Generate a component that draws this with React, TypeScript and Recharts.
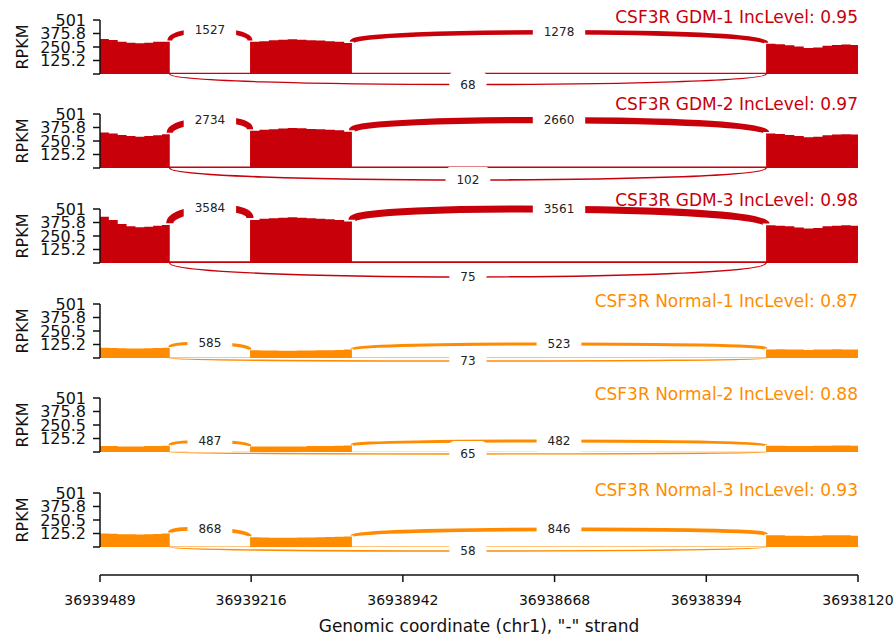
import { ComposedChart, Area, XAxis, YAxis, ReferenceLine } from 'recharts';

const FONT = '"DejaVu Sans", sans-serif';
const RED = '#C8000A';
const ORANGE = '#FF8C00';

// genomic axis ("-" strand, so drawn reversed)
const X_MIN = 36938120;
const X_MAX = 36939489;
const X_TICKS = [36939489, 36939216, 36938942, 36938668, 36938394, 36938120];
const Y_TICKS = [0, 125.2, 250.5, 375.8, 501];

const SAMPLES = ['GDM-1', 'GDM-2', 'GDM-3', 'Normal-1', 'Normal-2', 'Normal-3'];
const INC_LEVELS = [0.95, 0.97, 0.98, 0.87, 0.88, 0.93];

// coverage sample positions: exon1, intron1, exon2, intron2, exon3
const POS = [
  36939489, 36939473, 36939457, 36939441, 36939425, 36939409, 36939393, 36939377,
  36939363,
  36939218, 36939201, 36939184, 36939167, 36939150, 36939133, 36939116, 36939099, 36939082, 36939065, 36939048,
  36939034,
  36938286, 36938269, 36938252, 36938235, 36938218, 36938201, 36938184, 36938167, 36938150, 36938133,
  36938120,
];

const COV_GDM1 = [
  325, 315, 300, 290, 285, 290, 300, 300,
  12,
  300, 305, 312, 318, 322, 318, 314, 310, 305, 300, 288,
  12,
  280, 276, 266, 255, 242, 246, 262, 270, 273, 270,
  270,
];
const COV_GDM2 = [
  330, 320, 306, 296, 290, 296, 305, 312,
  14,
  345, 354, 360, 366, 370, 368, 362, 360, 355, 350, 336,
  14,
  320, 315, 306, 296, 286, 290, 305, 310, 312, 310,
  310,
];
const COV_GDM3 = [
  430, 400, 362, 342, 332, 336, 346, 352,
  16,
  400, 410, 416, 420, 425, 420, 415, 410, 405, 400, 386,
  16,
  350, 345, 340, 330, 320, 325, 340, 345, 350, 345,
  345,
];
const COV_N1 = [
  95, 92, 90, 88, 88, 90, 92, 95,
  4,
  72, 70, 70, 68, 68, 70, 70, 72, 72, 75, 78,
  4,
  80, 82, 80, 78, 75, 78, 80, 82, 80, 78,
  78,
];
const COV_N2 = [
  55, 55, 52, 52, 52, 55, 55, 58,
  3,
  50, 52, 52, 50, 52, 52, 55, 55, 55, 58, 60,
  3,
  58, 58, 55, 55, 55, 58, 58, 60, 60, 58,
  58,
];
const COV_N3 = [
  125, 122, 118, 118, 115, 118, 120, 125,
  4,
  90, 88, 85, 85, 85, 88, 88, 90, 92, 95, 98,
  4,
  110, 108, 105, 105, 102, 105, 108, 110, 108, 105,
  105,
];
const COVERAGE = [COV_GDM1, COV_GDM2, COV_GDM3, COV_N1, COV_N2, COV_N3];

// junctions: [donor, acceptor]
const JXN_INC1 = [36939363, 36939218];
const JXN_INC2 = [36939034, 36938286];
const JXN_SKIP = [36939363, 36938286];
const INC1_COUNTS = [1527, 2734, 3584, 585, 487, 868];
const INC2_COUNTS = [1278, 2660, 3561, 523, 482, 846];
const SKIP_COUNTS = [68, 102, 75, 73, 65, 58];

const PANEL_TOPS = [20, 114, 209, 304, 398, 493];
const TITLE_Y = [17, 104, 200, 301, 394, 490];
const PLOT_H = 54;
const M_TOP = 22;
const M_BOTTOM = 24;

const makeArc = (count: number, h: number, dir: number, color: string) => (p: any) => {
  const { x1, y1, x2, y2 } = p;
  if (x1 == null) return <g />;
  const lw = 0.11 * Math.sqrt(count) + 0.5;
  const off = dir < 0 ? -lw / 4 : 0;
  const a = y1 + off;
  const b = y2 + off;
  const d = `M${x1},${a} C${x1},${a + dir * h} ${x2},${b + dir * h} ${x2},${b}`;
  const mx = (x1 + x2) / 2;
  const my = (a + b) / 2 + dir * 0.75 * h;
  const label = String(count);
  const w = label.length * 7.6 + 22;
  return (
    <g>
      <path d={d} stroke={color} strokeWidth={lw} fill="none" />
      <rect x={mx - w / 2} y={my - 13} width={w} height={26} rx={5} fill="#fff" />
      <text x={mx} y={my} textAnchor="middle" dominantBaseline="central" fontSize={12} fill="#222" fontFamily={FONT}>
        {label}
      </text>
    </g>
  );
};

const rpkmLabel = (props: any) => {
  const vb = props.viewBox;
  const cy = vb.y + vb.height / 2;
  return (
    <text x={28} y={cy} transform={`rotate(-90 28 ${cy})`} textAnchor="middle" fontSize={16} fill="#111" fontFamily={FONT}>
      RPKM
    </text>
  );
};

function Panel({ idx }: { idx: number }) {
  const vals = COVERAGE[idx];
  const data = POS.map((pos, i) => ({ pos, cov: vals[i] }));
  const color = idx < 3 ? RED : ORANGE;
  const top = PANEL_TOPS[idx];
  const maxPx = (Math.max(...vals) / 501) * PLOT_H;
  const topH = 3.5 + 0.28 * maxPx;
  const botH = 0.4 * maxPx;
  const at = (p: number, before: boolean) => vals[POS.indexOf(p) - (before ? 1 : 0)];

  return (
    <div style={{ position: 'absolute', left: 0, top: top - M_TOP }}>
      <ComposedChart
        width={895}
        height={M_TOP + PLOT_H + M_BOTTOM}
        data={data}
        margin={{ top: M_TOP, right: 37, left: 0, bottom: M_BOTTOM }}
        style={{ overflow: 'visible' }}
      >
        <XAxis dataKey="pos" type="number" domain={[X_MIN, X_MAX]} reversed hide allowDataOverflow />
        <YAxis
          domain={[0, 501]}
          ticks={Y_TICKS}
          interval={0}
          width={100}
          tickSize={7}
          tickMargin={7}
          stroke="#111"
          strokeWidth={1.5}
          tick={{ fontSize: 16, fill: '#111', fontFamily: FONT }}
          tickFormatter={(v: number) => (v === 0 ? '' : String(v))}
          label={{ content: rpkmLabel }}
        />
        <Area
          type="stepAfter"
          dataKey="cov"
          stroke="none"
          fill={color}
          fillOpacity={1}
          baseValue={0}
          isAnimationActive={false}
        />
        <ReferenceLine
          segment={[{ x: JXN_INC1[0], y: at(JXN_INC1[0], true) }, { x: JXN_INC1[1], y: at(JXN_INC1[1], false) }]}
          shape={makeArc(INC1_COUNTS[idx], topH, -1, color)}
        />
        <ReferenceLine
          segment={[{ x: JXN_INC2[0], y: at(JXN_INC2[0], true) }, { x: JXN_INC2[1], y: at(JXN_INC2[1], false) }]}
          shape={makeArc(INC2_COUNTS[idx], topH, -1, color)}
        />
        <ReferenceLine
          segment={[{ x: JXN_SKIP[0], y: 0 }, { x: JXN_SKIP[1], y: 0 }]}
          shape={makeArc(SKIP_COUNTS[idx], botH, 1, color)}
        />
      </ComposedChart>
      <div
        style={{
          position: 'absolute',
          right: 37,
          top: M_TOP - top + TITLE_Y[idx] - 10,
          fontFamily: FONT,
          fontSize: 17,
          lineHeight: '20px',
          color,
          whiteSpace: 'nowrap',
        }}
      >
        {`CSF3R ${SAMPLES[idx]} IncLevel: ${INC_LEVELS[idx]}`}
      </div>
    </div>
  );
}

const AXIS_DATA = [{ pos: X_MAX }, { pos: X_MIN }];

export default function App() {
  return (
    <div style={{ position: 'absolute', left: 0, top: 0, width: 895, height: 635, background: '#fff' }}>
      {SAMPLES.map((_, i) => (
        <Panel key={i} idx={i} />
      ))}
      <div style={{ position: 'absolute', left: 0, top: 570 }}>
        <ComposedChart width={895} height={65} data={AXIS_DATA} margin={{ top: 4, right: 37, left: 100, bottom: 0 }}>
          <XAxis
            dataKey="pos"
            type="number"
            domain={[X_MIN, X_MAX]}
            reversed
            ticks={X_TICKS}
            interval={0}
            height={60}
            tickSize={7}
            tickMargin={13}
            stroke="#111"
            strokeWidth={1.5}
            tick={{ fontSize: 14, fill: '#111', fontFamily: FONT }}
            label={{ value: 'Genomic coordinate (chr1), "-" strand', position: 'insideBottom', offset: 3, fontSize: 17, fill: '#111', fontFamily: FONT }}
          />
          <YAxis hide domain={[0, 1]} />
        </ComposedChart>
      </div>
    </div>
  );
}
